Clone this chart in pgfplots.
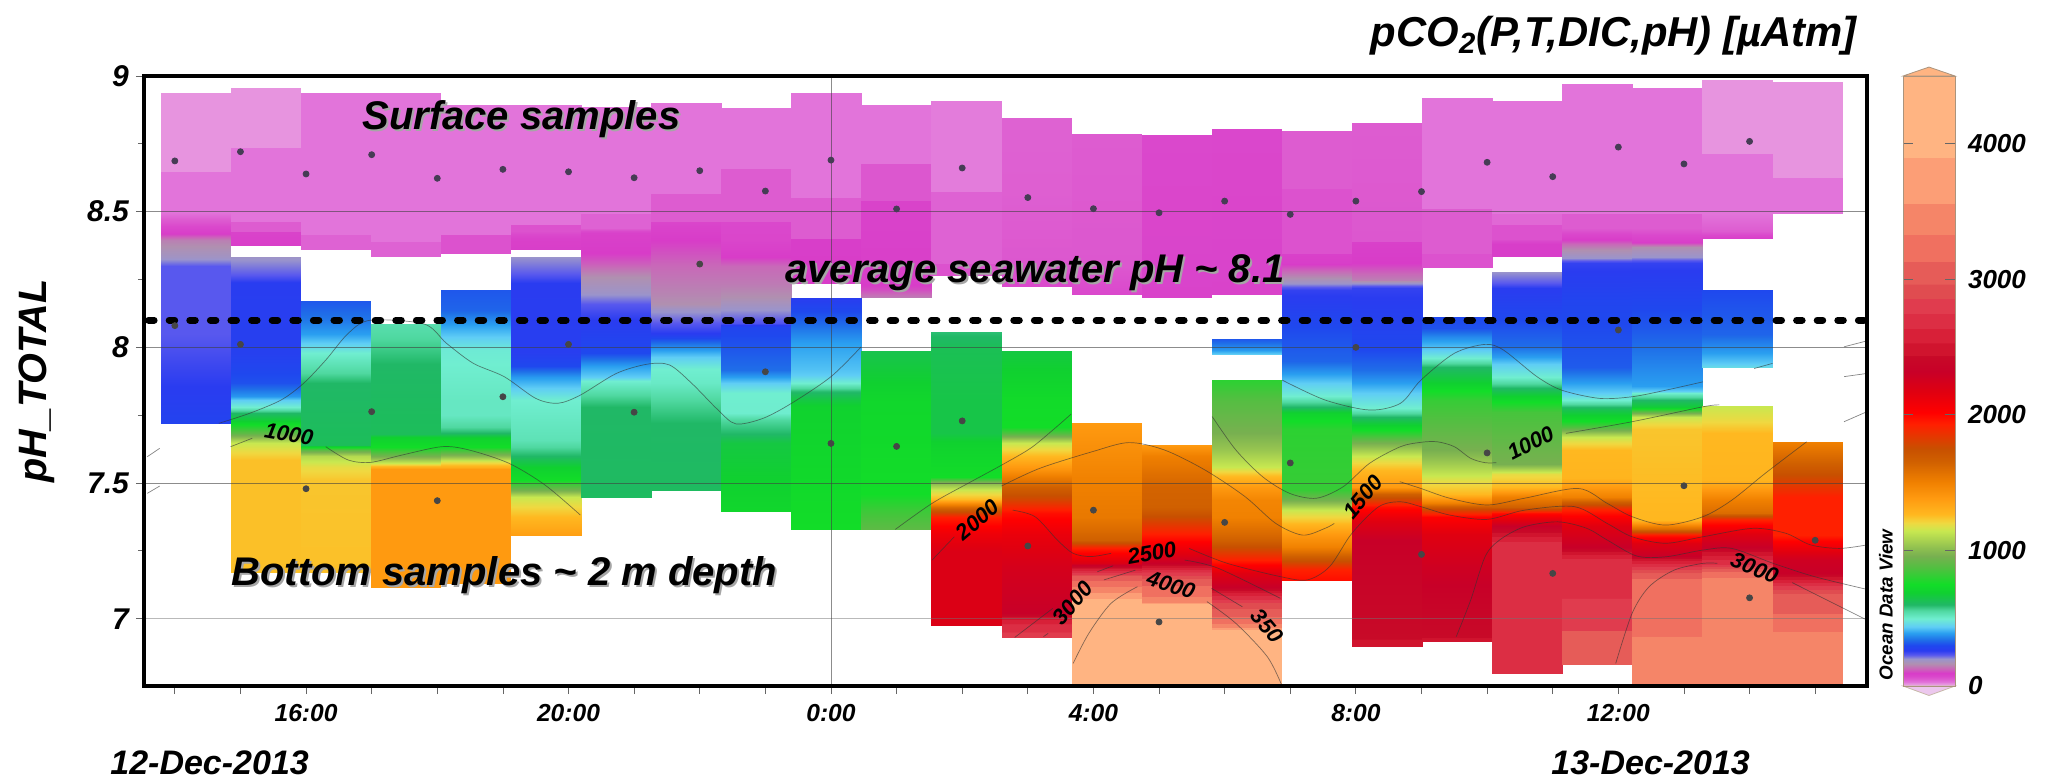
\documentclass[border=0pt]{standalone}
\usepackage{pgfplots}
\pgfplotsset{compat=1.18}
\usepackage{fontspec}
\setmainfont{Liberation Sans}
\usepackage{pgffor}
\pgfplotsset{
  colormap={odv}{
    rgb255(0)=(240,208,240) rgb255(12)=(232,150,224) rgb255(18)=(229,146,222)
    rgb255(30)=(226,116,218) rgb255(50)=(221,92,208) rgb255(70)=(218,72,204)
    rgb255(95)=(216,60,200) rgb255(130)=(200,105,184) rgb255(165)=(176,144,176)
    rgb255(200)=(154,148,204) rgb255(230)=(88,88,238) rgb255(262)=(42,60,240)
    rgb255(300)=(31,72,238) rgb255(340)=(31,110,232) rgb255(390)=(42,159,240)
    rgb255(437)=(95,205,245) rgb255(497)=(112,238,208) rgb255(557)=(79,216,160)
    rgb255(600)=(32,184,102) rgb255(690)=(16,208,48) rgb255(750)=(18,221,40)
    rgb255(870)=(80,192,64) rgb255(960)=(120,176,80) rgb255(1020)=(144,192,80)
    rgb255(1145)=(200,232,80) rgb255(1205)=(240,216,64) rgb255(1265)=(255,184,32)
    rgb255(1385)=(255,154,16) rgb255(1505)=(240,128,0) rgb255(1656)=(208,96,0)
    rgb255(1750)=(200,80,0) rgb255(1930)=(255,32,0) rgb255(2018)=(255,0,0)
    rgb255(2170)=(224,0,16) rgb255(2320)=(200,0,40)
    rgb255(2440)=(200,10,40) rgb255(2441)=(208,20,46)
    rgb255(2530)=(208,20,46) rgb255(2531)=(216,32,56)
    rgb255(2635)=(216,32,56) rgb255(2636)=(220,46,68)
    rgb255(2745)=(220,46,68) rgb255(2746)=(224,60,78)
    rgb255(2855)=(224,60,78) rgb255(2856)=(224,76,80)
    rgb255(2965)=(224,76,80) rgb255(2966)=(230,92,88)
    rgb255(3130)=(230,92,88) rgb255(3131)=(240,112,96)
    rgb255(3330)=(240,112,96) rgb255(3331)=(245,133,104)
    rgb255(3560)=(245,133,104) rgb255(3561)=(252,158,118)
    rgb255(3900)=(252,158,118) rgb255(3901)=(255,180,130)
    rgb255(4500)=(255,180,130)
  },
}
% one sampled column: left edge, right edge, list of pH/pCO2
\newcommand\col[3]{%
  \gdef\acc{}%
  \foreach \yy/\cc in {#3}{\xdef\acc{\acc (#1,\yy) [\cc] (#2,\yy) [\cc]}}%
  \edef\temp{\noexpand\addplot[surf,shader=interp,mesh/cols=2,point meta=explicit,forget plot] coordinates {\acc};}%
  \temp
}
\newcommand\tl[5][]{\node[font=\bfseries\itshape\fontsize{11}{13}\selectfont,rotate=#4,inner sep=0pt] at (#2pt,#3pt) {#5};}
\newcommand\shad[4]{%
  \node[anchor=base west,inner sep=0pt,text=gray!70,font=\bfseries\itshape\fontsize{#3}{#3}\selectfont] at (#1+1pt,#2-1pt) {#4};
  \node[anchor=base west,inner sep=0pt,text=black,font=\bfseries\itshape\fontsize{#3}{#3}\selectfont] at (#1,#2) {#4};}
\begin{document}
\begin{tikzpicture}
\path[use as bounding box] (-72pt,-48.5pt) rectangle (953pt,343pt);
\begin{axis}[
  scale only axis, width=861.5pt, height=305pt,
  xmin=13.53, xmax=39.79, ymin=6.752, ymax=9,
  axis on top, axis line style={line width=1.7pt,black},
  point meta min=0, point meta max=4500, colormap name=odv,
  tick align=outside, tick pos=left, major tick length=4pt, minor tick length=3pt,
  tick style={line width=.4pt,black!60},
  ytick={7,7.5,8,8.5,9}, minor y tick num=1,
  xtick={14,15,...,39},
  xticklabels={,,16:00,,,,20:00,,,,0:00,,,,4:00,,,,8:00,,,,12:00,,,},
  scaled ticks=false,
  /pgf/number format/assume math mode=true,
  yticklabel style={font=\bfseries\itshape\fontsize{15}{17}\selectfont},
  xticklabel style={font=\bfseries\itshape\fontsize{12.3}{14}\selectfont,yshift=-1.5pt},
]
\col{13.782}{14.850}{8.936/15,8.647/15,8.645/30,8.50/30,8.46/60,8.42/90,8.395/150,8.334/190,8.30/230,8.05/230,7.93/250,7.806/270,7.72/285}
\col{14.850}{15.918}{8.955/15,8.737/15,8.735/30,8.464/30,8.462/50,8.427/50,8.425/80,8.375/90}
\col{14.850}{15.918}{8.334/195,8.267/230,8.236/265,7.98/275,7.867/310,7.82/380,7.806/437,7.78/497,7.757/600,7.73/690,7.683/900,7.646/1145,7.60/1225,7.585/1250,7.17/1250}
\col{15.918}{16.987}{8.936/30,8.415/30,8.413/45,8.361/45}
\col{15.918}{16.987}{8.171/316,8.10/350,8.05/390,8.015/437,7.978/497,7.94/530,7.904/557,7.867/600,7.64/620,7.62/900,7.60/1100,7.56/1190,7.51/1240,7.17/1250}
\col{16.987}{18.055}{8.936/30,8.390/30,8.388/45,8.333/45}
\col{16.987}{18.055}{8.086/540,8.027/560,7.94/600,7.68/620,7.67/690,7.634/750,7.60/950,7.573/1145,7.56/1300,7.55/1385,7.114/1385}
\col{18.055}{19.123}{8.893/30,8.415/30,8.413/60,8.346/60}
\col{18.055}{19.123}{8.211/316,8.137/330,8.08/395,8.04/437,7.99/490,7.94/497,7.806/515,7.75/515,7.708/557,7.683/600,7.665/700,7.634/750,7.60/1000,7.58/1160,7.56/1300,7.55/1385,7.13/1385}
\col{19.123}{20.191}{8.893/30,8.452/30,8.450/60,8.43/60,8.40/85,8.361/90}
\col{19.123}{20.191}{8.333/200,8.27/230,8.236/262,7.98/270,7.93/300,7.89/385,7.85/437,7.806/497,7.66/530,7.634/557,7.60/600,7.56/690,7.51/750,7.474/950,7.45/1145,7.413/1205,7.376/1265,7.305/1370}
\col{20.191}{21.259}{8.885/30,8.495/30,8.493/45,8.44/45,8.42/85,8.346/95,8.31/120,8.26/165,8.20/195,8.16/230,8.10/262,7.98/300,7.93/390,7.89/437,7.875/497,7.82/560,7.78/600,7.446/610}
\col{21.259}{22.328}{8.90/30,8.566/30,8.564/50,8.464/50,8.462/75,8.395/95,8.30/130,8.236/145,8.16/165,8.137/195,8.088/230,8.05/265,8.015/340,7.966/437,7.92/497,7.867/510,7.806/557,7.72/600,7.472/610}
\col{22.328}{23.396}{8.883/30,8.658/30,8.656/50,8.464/50,8.462/70,8.395/75,8.334/95,8.30/130,8.236/145,8.186/165,8.137/200,8.088/235,8.076/290,7.916/340,7.89/390,7.867/437,7.83/497,7.757/500,7.732/557,7.68/600,7.646/660,7.394/720}
\col{23.396}{24.464}{8.936/30,8.553/30,8.551/50,8.402/50,8.399/90,8.236/95}
\col{23.396}{24.464}{8.183/265,8.113/316,8.015/390,7.92/425,7.898/437,7.867/497,7.84/590,7.806/660,7.78/700,7.329/750}
\col{24.464}{25.532}{8.893/30,8.679/30,8.677/55,8.540/55,8.538/80,8.236/90,8.21/110,8.183/150}
\col{24.464}{25.532}{7.987/640,7.806/720,7.46/750,7.40/830,7.329/900}
\col{25.532}{26.600}{8.909/27,8.575/27,8.573/45,8.311/45,8.309/60,8.266/60}
\col{25.532}{26.600}{8.058/590,7.99/630,7.806/650,7.683/650,7.646/700,7.523/750,7.50/1000,7.474/1150,7.44/1260,7.413/1600,7.376/1930,7.314/2100,7.25/2200,6.974/2200}
\col{26.600}{27.669}{8.846/45,8.55/48,8.32/55,8.223/70}
\col{26.600}{27.669}{7.987/660,7.806/740,7.708/750,7.683/870,7.646/1145,7.60/1265,7.548/1420,7.486/1656,7.437/1800,7.388/1980,7.314/2120,7.19/2240,7.02/2320,6.995/2550,6.97/2700,6.929/2800}
\col{27.669}{28.737}{8.786/50,8.30/55,8.196/70}
\col{27.669}{28.737}{7.72/1385,7.511/1500,7.376/1540,7.29/1656,7.26/1930,7.204/2200,7.18/2600,7.155/3040,7.13/3220,7.106/3430,7.07/4000,6.752/4200}
\col{28.737}{29.805}{8.784/70,8.184/80}
\col{28.737}{29.805}{7.64/1385,7.60/1505,7.486/1640,7.413/1656,7.34/1850,7.29/2000,7.24/2170,7.204/2320,7.18/2680,7.14/3040,7.106/3220,7.06/3430,7.056/4000,6.752/4200}
\col{29.805}{30.873}{8.805/72,8.195/80}
\col{29.805}{30.873}{8.029/316,7.99/385,7.975/437}
\col{29.805}{30.873}{7.88/800,7.806/880,7.683/960,7.62/1040,7.56/1145,7.53/1250,7.486/1385,7.437/1480,7.376/1500,7.29/1656,7.216/1930,7.167/2170,7.118/2320,7.08/2680,7.056/2900,7.02/3040,6.97/3430,6.96/4000,6.752/4200}
\col{30.873}{31.941}{8.796/50,8.587/50,8.585/60,8.347/60,8.345/85,8.31/90,8.28/130,8.26/160,8.236/195,8.21/255,8.076/300,7.95/330,7.90/390,7.867/437,7.82/497,7.80/557,7.78/600,7.757/700,7.70/800,7.474/820,7.437/950,7.40/1145,7.357/1250,7.314/1385,7.265/1500,7.23/1656,7.18/1930,7.142/1980}
\col{31.941}{33.010}{8.826/50,8.391/55,8.389/85,8.31/95,8.248/150,8.236/195,8.22/255,7.99/300,7.916/340,7.867/390,7.83/437,7.775/497,7.744/600,7.695/750,7.646/960,7.60/1145,7.548/1265,7.486/1385,7.46/1656,7.413/1980,7.36/2170,7.29/2320,6.897/2450}
\col{33.010}{34.078}{8.919/30,8.513/30,8.511/50,8.347/50,8.345/60,8.293/60}
\col{33.010}{34.078}{8.113/300,8.07/310,8.038/370,7.99/437,7.96/497,7.928/600,7.868/690,7.806/820,7.62/960,7.56/1080,7.51/1180,7.46/1265,7.425/1505,7.40/1800,7.376/2018,7.314/2170,7.19/2280,6.915/2450}
\col{34.078}{35.146}{8.909/30,8.495/30,8.493/40,8.452/40,8.450/60,8.40/60,8.38/90,8.334/90}
\col{34.078}{35.146}{8.279/200,8.237/230,8.22/262,8.10/300,8.0/340,7.965/390,7.94/437,7.89/497,7.856/580,7.82/690,7.76/850,7.57/960,7.535/1190,7.486/1265,7.45/1505,7.413/1656,7.388/1980,7.34/2320,7.277/2680,6.797/2740}
\col{35.146}{36.214}{8.97/30,8.495/30,8.493/50,8.44/50,8.40/90,8.38/130,8.36/165,8.33/200,8.31/255,8.17/290,7.928/320,7.867/390,7.83/437,7.806/497,7.77/640,7.73/750,7.708/870,7.67/1145,7.62/1265,7.52/1280,7.45/1500,7.40/1930,7.34/2170,7.265/2320,7.216/2680,6.958/2800,6.956/3040,6.833/3040}
\col{36.214}{37.282}{8.954/30,8.495/30,8.493/50,8.44/50,8.389/90,8.371/165,8.334/200,8.31/255,8.06/320,7.856/390,7.84/437,7.83/497,7.806/600,7.78/680,7.745/1145,7.70/1240,7.364/1270,7.33/1600,7.31/1950,7.28/2170,7.23/2320,7.20/2680,7.14/3220,6.752/3430}
\col{37.282}{38.351}{8.985/15,8.716/15,8.714/30,8.494/30,8.43/50,8.40/90}
\col{37.282}{38.351}{8.21/300,8.05/330,7.98/390,7.94/437,7.924/470}
\col{37.282}{38.351}{7.785/1145,7.73/1200,7.683/1265,7.51/1280,7.437/1505,7.388/1600,7.364/1930,7.314/2170,7.265/2320,7.20/2740,7.167/3220,7.136/3430,6.752/3480}
\col{38.351}{39.419}{8.979/15,8.625/15,8.623/30,8.494/30}
\col{38.351}{39.419}{7.652/1505,7.572/1656,7.486/1850,7.45/1930,7.31/1930,7.265/2100,7.216/2280,7.167/2320,7.118/2800,7.08/3040,6.958/3220,6.95/3430,6.752/3450}
% grid lines
\addplot[black!75,opacity=.6,line width=.45pt,forget plot] coordinates {(13.53,8.5)(39.79,8.5)};
\addplot[black!75,opacity=.6,line width=.45pt,forget plot] coordinates {(13.53,8)(39.79,8)};
\addplot[black!75,opacity=.6,line width=.5pt,forget plot] coordinates {(13.53,7.5)(39.79,7.5)};
\addplot[black!55,opacity=.5,line width=.7pt,forget plot] coordinates {(13.53,7)(39.79,7)};
\addplot[black!75,opacity=.6,line width=.45pt,forget plot] coordinates {(24,6.752)(24,9)};
% contours
\pgfplotsset{ctr/.style={black!80,opacity=.6,line width=.35pt,smooth,forget plot}}
\addplot[ctr] coordinates {(14.67,7.72)(15.14,7.757)(15.62,7.806)(15.96,7.867)(16.30,7.953)(16.64,8.051)(16.98,8.10)(17.80,8.086)(18.14,8.015)(18.55,7.941)(19.02,7.892)(19.50,7.812)(19.84,7.794)(20.18,7.824)(20.73,7.904)(21.20,7.938)(21.54,7.935)(21.88,7.867)(22.28,7.769)(22.55,7.718)(22.96,7.738)(23.40,7.794)(24.0,7.892)(24.46,8.002)};
\addplot[ctr] coordinates {(30.88,7.879)(31.53,7.806)(32.21,7.769)(32.68,7.794)(32.99,7.879)(33.50,7.978)(33.97,8.011)(34.25,7.99)(34.76,7.892)(35.14,7.842)(35.71,7.812)(36.21,7.818)(36.72,7.842)(37.29,7.873)};
\addplot[ctr] coordinates {(38.07,7.922)(38.35,7.941)};
\addplot[ctr] coordinates {(14.85,7.634)(15.18,7.665)};
\addplot[ctr] coordinates {(16.30,7.634)(16.64,7.585)(16.98,7.576)(17.46,7.603)(18.07,7.634)(18.48,7.622)(19.09,7.573)(19.64,7.493)(20.18,7.382)};
\addplot[ctr] coordinates {(24.98,7.329)(25.54,7.425)(26.09,7.499)(26.60,7.566)(27.04,7.628)(27.38,7.695)(27.66,7.754)};
\addplot[ctr] coordinates {(26.60,7.489)(27.18,7.554)(27.99,7.616)(28.54,7.649)(29.08,7.622)(29.70,7.548)(30.31,7.450)(30.78,7.351)(31.19,7.308)(31.53,7.333)(31.67,7.351)};
\addplot[ctr] coordinates {(29.81,7.745)(30.17,7.622)(30.58,7.523)(30.99,7.462)(31.40,7.444)(31.81,7.487)(32.21,7.573)(32.68,7.634)(32.99,7.65)(33.24,7.652)(33.50,7.634)(33.75,7.591)(33.97,7.575)(34.14,7.575)};
\addplot[ctr] coordinates {(35.20,7.683)(36.21,7.726)(37.29,7.781)(37.54,7.788)};
\addplot[ctr] coordinates {(32.67,7.505)(32.99,7.48)(33.43,7.444)(34.0,7.419)(34.57,7.444)(35.39,7.48)(35.83,7.425)(36.21,7.376)(36.72,7.345)(37.29,7.376)(37.73,7.437)(38.24,7.536)(38.87,7.652)};
\addplot[ctr] coordinates {(25.54,7.216)(25.88,7.302)};
\addplot[ctr] coordinates {(26.77,7.4)(27.11,7.376)(27.45,7.29)(27.69,7.241)(27.96,7.229)(28.27,7.241)};
\addplot[ctr] coordinates {(29.46,7.259)(30.04,7.204)(30.85,7.155)(31.26,7.143)(31.60,7.192)(31.94,7.315)(32.35,7.413)(32.68,7.431)(32.99,7.413)(33.43,7.382)(34.0,7.366)(34.57,7.4)(35.33,7.413)(35.83,7.351)(36.21,7.302)(36.72,7.278)(37.29,7.302)(38.05,7.333)(38.55,7.315)(38.93,7.272)(39.37,7.259)(39.79,7.272)};
\addplot[ctr] coordinates {(29.39,7.216)(29.90,7.186)(30.85,7.075)};
\addplot[ctr] coordinates {(29.80,7.112)(30.27,7.044)};
\addplot[ctr] coordinates {(29.73,7.063)(30.17,6.983)(30.65,6.86)(30.87,6.755)};
\addplot[ctr] coordinates {(27.69,6.835)(27.93,6.946)(28.27,7.057)(28.67,7.118)};
\addplot[ctr] coordinates {(26.80,6.931)(27.38,7.038)};
\addplot[ctr] coordinates {(27.24,6.934)(27.31,6.946)};
\addplot[ctr] coordinates {(28.06,7.173)(28.30,7.195)};
\addplot[ctr] coordinates {(28.16,7.143)(28.64,7.179)};
\addplot[ctr] coordinates {(33.53,6.934)(33.75,7.069)(33.97,7.229)(34.19,7.29)(34.57,7.339)(35.08,7.357)(35.52,7.333)(35.83,7.29)(36.28,7.231)(36.72,7.228)(37.29,7.253)(37.73,7.259)(38.36,7.204)(38.99,7.155)(39.79,7.108)};
\addplot[ctr] coordinates {(35.96,6.835)(36.21,7.02)(36.47,7.118)(36.85,7.179)(37.29,7.204)(37.51,7.204)};
\addplot[ctr] coordinates {(38.65,7.133)(39.79,6.995)};
\addplot[ctr] coordinates {(39.44,8.002)(39.79,8.024)};
\addplot[ctr] coordinates {(39.44,7.892)(39.79,7.904)};
\addplot[ctr] coordinates {(39.44,7.726)(39.79,7.763)};
\addplot[ctr] coordinates {(13.58,7.597)(13.77,7.628)};
\addplot[ctr] coordinates {(13.58,7.462)(13.77,7.489)};
% sample points
\addplot[only marks,mark=*,mark size=1.5pt,color={rgb,255:red,70;green,60;blue,85},forget plot] coordinates {
(14,8.687)(15,8.721)(16,8.639)(17,8.71)(18,8.623)(19,8.656)(20,8.647)(21,8.625)(22,8.651)(23,8.576)(24,8.69)(25,8.51)(26,8.661)(27,8.552)(28,8.511)(29,8.496)(30,8.539)(31,8.49)(32,8.539)(33,8.574)(34,8.682)(35,8.629)(36,8.738)(37,8.676)(38,8.759)};
\addplot[only marks,mark=*,mark size=1.5pt,color={rgb,255:red,70;green,70;blue,70},forget plot] coordinates {
(14,8.08)(15,8.011)(16,7.479)(17,7.763)(18,7.435)(19,7.818)(20,8.011)(21,7.761)(22,8.307)(23,7.91)(24,7.646)(25,7.635)(26,7.729)(27,7.268)(28,7.4)(29,6.988)(30,7.355)(31,7.574)(32,8.0)(33,7.237)(34,7.611)(35,7.167)(36,8.064)(37,7.49)(38,7.077)(39,7.289)};
% average line
\addplot[black,line width=3.5pt,dash pattern=on 2.75pt off 7.55pt,line cap=round,forget plot] coordinates {(13.6,8.1)(39.79,8.1)};
\end{axis}
% colour bar
\begin{axis}[
  at={(879.5pt,0pt)}, scale only axis, width=26pt, height=305pt,
  xmin=0, xmax=1, ymin=0, ymax=4500, clip=false, axis on top,
  point meta min=0, point meta max=4500, colormap name=odv,
  axis line style={line width=.5pt,black!40!brown!60},
  xtick=\empty, ytick={0,1000,2000,3000,4000},
  ytick pos=both, yticklabel pos=right, tick align=inside,
  major tick length=5pt, tick style={line width=.5pt,black!60},
  scaled ticks=false, /pgf/number format/assume math mode=true,
  /pgf/number format/set thousands separator={},
  yticklabel style={font=\bfseries\itshape\fontsize{13}{15}\selectfont,xshift=3pt},
]
\addplot[surf,shader=interp,mesh/cols=2,point meta=explicit,forget plot] coordinates {(0,0) [0] (1,0) [0] (0,4500) [4500] (1,4500) [4500]};
\addplot[fill={rgb,255:red,255;green,180;blue,130},draw=black!40!brown!60,line width=.4pt,forget plot] coordinates {(0,4500)(0.5,4566)(1,4500)} --cycle;
\addplot[fill={rgb,255:red,236;green,200;blue,238},draw=black!40!brown!40,line width=.4pt,forget plot] coordinates {(0,0)(0.5,-70)(1,0)} --cycle;
\end{axis}
% text
\node[rotate=90,font=\bfseries\itshape\fontsize{9.4}{11}\selectfont,inner sep=0pt] at (871pt,40.5pt) {Ocean Data View};
\node[anchor=east,inner sep=0pt,font=\bfseries\itshape\fontsize{20.9}{24}\selectfont] at (856.5pt,325pt) {pCO\textsubscript{2}(P,T,DIC,pH) [µAtm]};
\node[rotate=90,inner sep=0pt,font=\bfseries\itshape\fontsize{19.8}{24}\selectfont] at (-53.5pt,152.5pt) {pH\_TOTAL};
\node[anchor=west,inner sep=0pt,font=\bfseries\itshape\fontsize{17}{20}\selectfont] at (-17pt,-38.5pt) {12-Dec-2013};
\node[anchor=west,inner sep=0pt,font=\bfseries\itshape\fontsize{17}{20}\selectfont] at (703.5pt,-38.5pt) {13-Dec-2013};
\shad{109pt}{278.3pt}{20}{Surface samples}
\shad{320.5pt}{201.7pt}{20}{average seawater pH \textasciitilde{} 8.1}
\shad{43.5pt}{50.5pt}{20}{Bottom samples \textasciitilde{} 2 m depth}
\tl{72.5}{126}{-10}{1000}
\tl{693.3}{121.5}{27}{1000}
\tl{416.8}{83}{40}{2000}
\tl{503.9}{66.6}{10}{2500}
\tl{513.5}{50.5}{-18}{4000}
\tl{464.4}{41.5}{50}{3000}
\tl{561.5}{30}{-50}{350}
\tl{609.5}{94.6}{50}{1500}
\tl{805.3}{59}{-22}{3000}
\end{tikzpicture}
\end{document}
